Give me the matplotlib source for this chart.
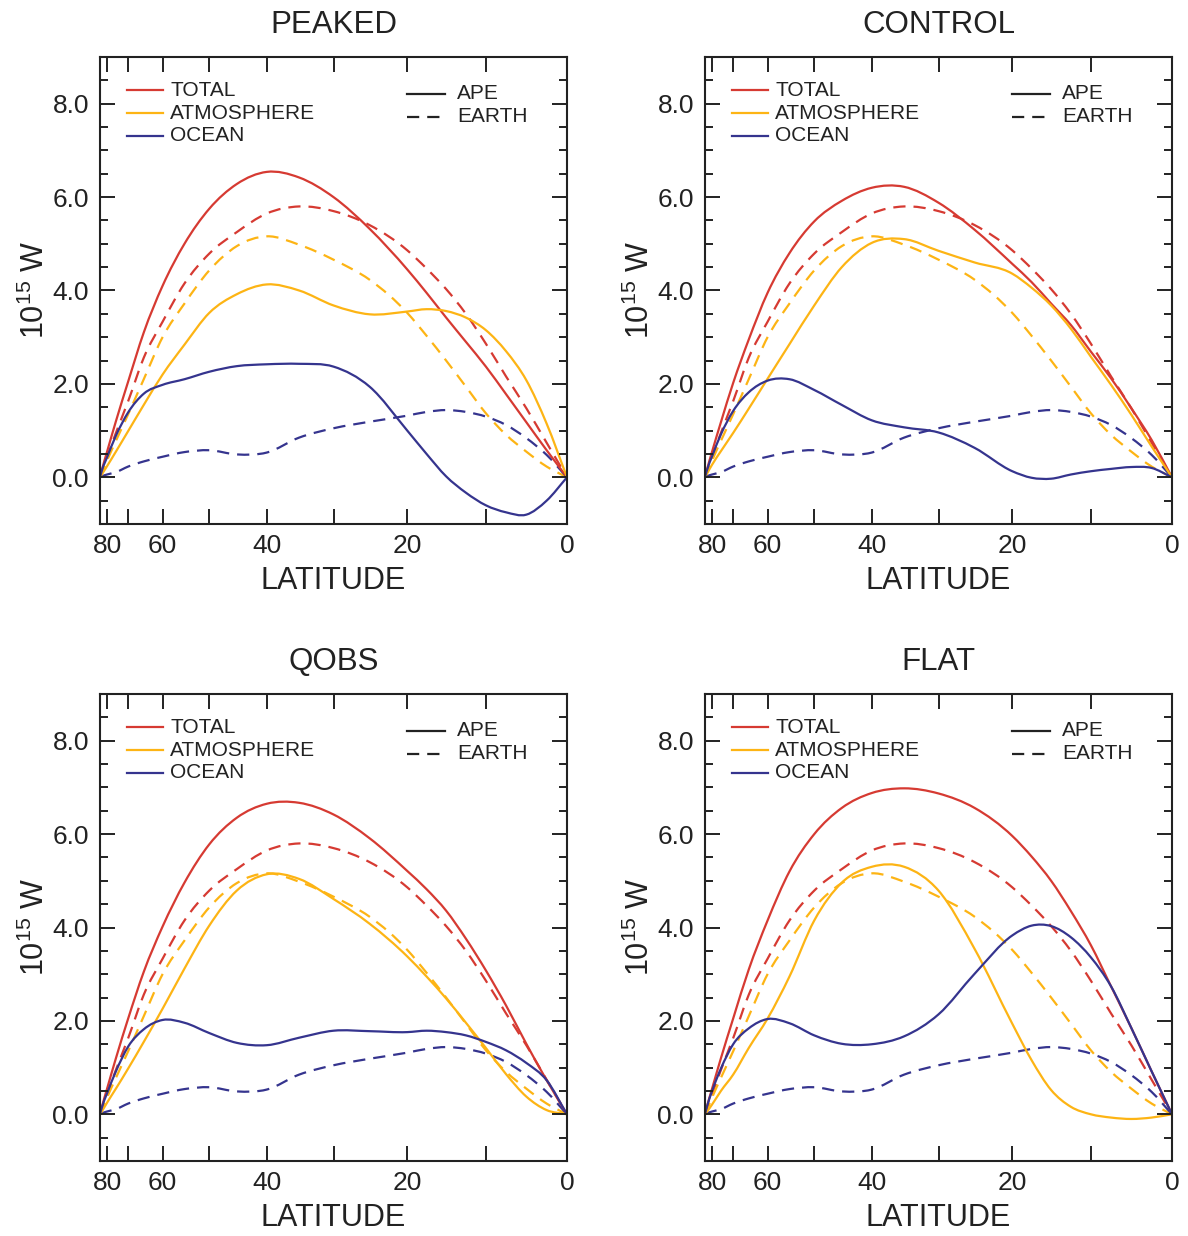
import matplotlib
matplotlib.use("Agg")
import matplotlib.pyplot as plt
from matplotlib.path import Path
from matplotlib.patches import PathPatch
import numpy as np

plt.rcParams['font.family'] = ['Liberation Sans', 'DejaVu Sans']
plt.rcParams['mathtext.fontset'] = 'custom'
plt.rcParams['mathtext.rm'] = 'Liberation Sans'

# latitude grid (degrees), pole on the left, equator on the right
lat = [90, 85, 80, 75, 70, 65, 60, 55, 50, 45, 40, 35, 30, 25, 20,
       17.5, 15, 12.5, 10, 7.5, 5, 2.5, 0]

# observed (EARTH) transports, 10^15 W
earth_total = [0, 0.10, 0.43, 0.95, 1.63, 2.56, 3.33, 4.15, 4.79, 5.25, 5.65, 5.80,
               5.70, 5.40, 4.86, 4.47, 4.03, 3.50, 2.86, 2.16, 1.48, 0.74, 0]
earth_atm = [0, 0.08, 0.36, 0.78, 1.35, 2.10, 3.00, 3.72, 4.43, 4.95, 5.16, 4.98,
             4.66, 4.23, 3.52, 3.03, 2.50, 1.94, 1.37, 0.91, 0.55, 0.23, 0]
earth_ocean = [0, 0.02, 0.06, 0.11, 0.23, 0.34, 0.44, 0.54, 0.58, 0.49, 0.53, 0.85,
               1.05, 1.19, 1.32, 1.40, 1.44, 1.40, 1.30, 1.12, 0.84, 0.48, 0]

# aquaplanet (APE) transports for each SST profile
peaked_total = [0, 0.15, 0.55, 1.20, 2.05, 3.10, 4.10, 5.00, 5.75, 6.28, 6.54, 6.42,
                6.00, 5.32, 4.45, 3.95, 3.42, 2.90, 2.37, 1.78, 1.18, 0.58, 0]
peaked_atm = [0, 0.06, 0.24, 0.55, 0.99, 1.55, 2.20, 2.84, 3.52, 3.92, 4.13, 4.00,
              3.68, 3.49, 3.55, 3.60, 3.56, 3.42, 3.15, 2.70, 2.08, 1.15, 0]
peaked_ocean = [0, 0.14, 0.43, 0.89, 1.39, 1.79, 1.98, 2.10, 2.26, 2.38, 2.42, 2.43,
                2.37, 1.94, 1.00, 0.50, 0.02, -0.33, -0.60, -0.75, -0.80, -0.50, 0]

control_total = [0, 0.15, 0.55, 1.18, 2.02, 2.95, 3.95, 4.80, 5.48, 5.92, 6.20, 6.22,
                 5.88, 5.30, 4.57, 4.18, 3.72, 3.26, 2.69, 2.12, 1.48, 0.80, 0]
control_atm = [0, 0.07, 0.27, 0.56, 0.95, 1.47, 2.11, 2.85, 3.68, 4.50, 5.02, 5.10,
               4.85, 4.60, 4.36, 4.06, 3.68, 3.18, 2.58, 1.98, 1.34, 0.66, 0]
control_ocean = [0, 0.14, 0.45, 0.92, 1.42, 1.82, 2.07, 2.10, 1.87, 1.55, 1.22, 1.07,
                 0.96, 0.63, 0.13, -0.01, -0.03, 0.06, 0.13, 0.18, 0.22, 0.20, 0]

qobs_total = [0, 0.15, 0.55, 1.20, 2.05, 3.05, 4.02, 4.96, 5.78, 6.35, 6.65, 6.67,
              6.42, 5.91, 5.21, 4.82, 4.36, 3.76, 3.08, 2.33, 1.51, 0.73, 0]
qobs_atm = [0, 0.06, 0.25, 0.55, 0.98, 1.55, 2.26, 3.12, 4.04, 4.79, 5.14, 5.04,
            4.61, 4.08, 3.38, 2.95, 2.48, 1.96, 1.42, 0.86, 0.38, 0.09, 0]
qobs_ocean = [0, 0.14, 0.45, 0.92, 1.45, 1.82, 2.02, 1.96, 1.74, 1.53, 1.48, 1.64,
              1.79, 1.78, 1.76, 1.79, 1.76, 1.69, 1.55, 1.37, 1.10, 0.73, 0]

flat_total = [0, 0.15, 0.55, 1.20, 2.05, 3.10, 4.15, 5.20, 6.00, 6.56, 6.88, 6.98,
              6.87, 6.56, 5.96, 5.52, 5.00, 4.35, 3.62, 2.74, 1.85, 0.92, 0]
flat_atm = [0, 0.05, 0.21, 0.50, 0.85, 1.42, 2.05, 2.95, 4.15, 4.96, 5.30, 5.30,
            4.79, 3.54, 1.94, 1.16, 0.52, 0.16, 0.0, -0.07, -0.10, -0.07, 0]
flat_ocean = [0, 0.15, 0.50, 0.98, 1.50, 1.84, 2.04, 1.95, 1.69, 1.51, 1.50, 1.67,
              2.14, 3.01, 3.83, 4.04, 4.03, 3.79, 3.36, 2.74, 1.85, 0.92, 0]

panels = ['PEAKED', 'CONTROL', 'QOBS', 'FLAT']
ape = {'PEAKED': (peaked_total, peaked_atm, peaked_ocean),
       'CONTROL': (control_total, control_atm, control_ocean),
       'QOBS': (qobs_total, qobs_atm, qobs_ocean),
       'FLAT': (flat_total, flat_atm, flat_ocean)}
earth = (earth_total, earth_atm, earth_ocean)
names = ['TOTAL', 'ATMOSPHERE', 'OCEAN']
colors = ['#d63a32', '#fdb414', '#35348e']

tick_lat = [80, 60, 40, 20, 0]
minor_lat = [70, 50, 30, 10]

W, H = 1188, 1236
boxes = [(100, 57), (705, 57), (100, 694), (705, 694)]
size = 467

dash = (0, (5.5, 3.6))
lw = 1.6


def smooth_path(x, y):
    """Bezier path through (x, y) using three-point tangents at each node."""
    x = np.asarray(x, float)
    y = np.asarray(y, float)
    h = np.diff(x)
    d = np.diff(y) / h
    m = np.empty_like(y)
    m[0], m[-1] = d[0], d[-1]
    m[1:-1] = (h[1:] * d[:-1] + h[:-1] * d[1:]) / (h[:-1] + h[1:])
    verts = [(x[0], y[0])]
    codes = [Path.MOVETO]
    for k in range(len(x) - 1):
        t = h[k] / 3
        verts += [(x[k] + t, y[k] + m[k] * t),
                  (x[k + 1] - t, y[k + 1] - m[k + 1] * t),
                  (x[k + 1], y[k + 1])]
        codes += [Path.CURVE4] * 3
    return Path(verts, codes)


x = np.sin(np.radians(lat))

fig = plt.figure(figsize=(W / 100, H / 100), dpi=100)

for name, (px, py) in zip(panels, boxes):
    ax = fig.add_axes([px / W, 1 - (py + size) / H, size / W, size / H])

    for vals, c in zip(earth, colors):
        ax.add_patch(PathPatch(smooth_path(x, vals), fill=False, ec=c, lw=lw,
                               linestyle=dash))
    for vals, c in zip(ape[name], colors):
        ax.add_patch(PathPatch(smooth_path(x, vals), fill=False, ec=c, lw=lw))

    ax.set_xlim(1, 0)
    ax.set_ylim(-1, 9)
    ax.set_xticks(np.sin(np.radians(tick_lat)))
    ax.set_xticklabels([str(t) for t in tick_lat])
    ax.set_xticks(np.sin(np.radians(minor_lat)), minor=True)
    ax.set_yticks([0, 2, 4, 6, 8])
    ax.set_yticklabels(['%.1f' % v for v in [0, 2, 4, 6, 8]])
    ax.set_yticks(np.arange(-0.5, 9, 0.5), minor=True)

    ax.tick_params(which='both', direction='in', top=True, right=True,
                   width=1.4, colors='#222222', labelsize=19)
    ax.tick_params(axis='x', which='both', length=10.5, pad=7)
    ax.tick_params(axis='y', which='major', length=10.5, pad=8)
    ax.tick_params(axis='y', which='minor', length=5.5)
    for s in ax.spines.values():
        s.set_linewidth(1.5)
        s.set_color('#222222')

    ax.text(0.5, 1.068, name, transform=ax.transAxes, ha='center', va='center',
            fontsize=22.5, color='#222222')
    ax.set_xlabel('LATITUDE', fontsize=22, va='center', color='#222222')
    ax.xaxis.set_label_coords(0.5, -0.122)
    ax.set_ylabel(r'$\mathregular{10^{15}}$ W', fontsize=22, va='center', color='#222222')
    ax.yaxis.set_label_coords(-0.139, 0.5)

    # legend: components by colour
    for i, (lab, c) in enumerate(zip(names, colors)):
        yy = 0.929 - i * 0.049
        ax.plot([0.058, 0.135], [yy, yy], color=c, lw=lw, transform=ax.transAxes)
        ax.text(0.150, yy, lab, transform=ax.transAxes, va='center', fontsize=15,
                color='#222222')
    # legend: line style for APE vs EARTH
    for i, (lab, ls) in enumerate(zip(['APE', 'EARTH'], ['-', dash])):
        yy = 0.921 - i * 0.049
        ax.plot([0.657, 0.739], [yy, yy], color='#222222', lw=lw, linestyle=ls,
                transform=ax.transAxes)
        ax.text(0.764, yy, lab, transform=ax.transAxes, va='center', fontsize=15,
                color='#222222')

fig.savefig('out.png', dpi=100)
